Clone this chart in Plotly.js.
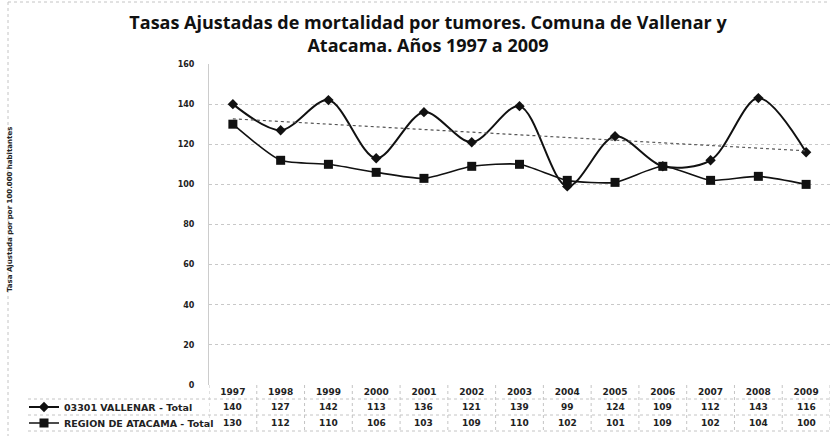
<!DOCTYPE html>
<html>
<head>
<meta charset="utf-8">
<script src="https://cdn.plot.ly/plotly-3.0.1.min.js"></script>
<style>html,body{margin:0;padding:0;background:#fff;}#chart{width:831px;height:439px;}</style>
</head>
<body>
<div id="chart"></div>
<script>
const years = ['1997','1998','1999','2000','2001','2002','2003','2004','2005','2006','2007','2008','2009'];
const vallenar = [140,127,142,113,136,121,139,99,124,109,112,143,116];
const atacama = [130,112,110,106,103,109,110,102,101,109,102,104,100];
const vallenarName = '03301 VALLENAR - Total';
const atacamaName = 'REGION DE ATACAMA - Total';
const yTicks = [0,20,40,60,80,100,120,140,160];

// linear trend of Vallenar (least squares, as the spreadsheet trendline)
const n = vallenar.length;
const idx = vallenar.map((_, i) => i);
const mx = idx.reduce((a, b) => a + b, 0) / n;
const my = vallenar.reduce((a, b) => a + b, 0) / n;
let sxy = 0, sxx = 0;
idx.forEach(i => { sxy += (i - mx) * (vallenar[i] - my); sxx += (i - mx) * (i - mx); });
const slope = sxy / sxx;
const trend = idx.map(i => my + slope * (i - mx));

const plotBottom = 385, plotH = 321, plotL = 209, plotW = 621;
const py = p => (plotBottom - p) / plotH;
const px = p => (p - plotL) / plotW;

const traces = [
  {x: idx, y: vallenar, name: vallenarName, type: 'scatter', mode: 'lines+markers',
   line: {color: '#111', width: 2, shape: 'spline', smoothing: 0.9},
   marker: {symbol: 'diamond', size: 8, color: '#111'}, legend: 'legend'},
  {x: idx, y: atacama, name: atacamaName, type: 'scatter', mode: 'lines+markers',
   line: {color: '#111', width: 1.6, shape: 'spline', smoothing: 0.6},
   marker: {symbol: 'square', size: 9, color: '#111'}, legend: 'legend2'},
  {x: idx, y: trend, name: 'Lineal (03301 VALLENAR - Total)', type: 'scatter', mode: 'lines',
   line: {color: '#555', width: 1.2, dash: 'dot'}, showlegend: false, hoverinfo: 'skip'}
];

const annotations = [];
const cellFont = () => ({family: 'DejaVu Sans', size: 9, color: '#222', weight: 'bold'});
years.forEach((yr, i) => {
  annotations.push({x: i, y: py(407), xref: 'x', yref: 'paper', text: String(vallenar[i]),
    showarrow: false, font: cellFont(), xanchor: 'center', yanchor: 'middle'});
  annotations.push({x: i, y: py(423), xref: 'x', yref: 'paper', text: String(atacama[i]),
    showarrow: false, font: cellFont(), xanchor: 'center', yanchor: 'middle'});
});
annotations.push({x: px(10), y: py(210), xref: 'paper', yref: 'paper', textangle: -90,
  text: 'Tasa Ajustada por por 100.000 habitantes', showarrow: false,
  font: {family: 'DejaVu Sans', size: 7, color: '#222', weight: 'bold'}, xanchor: 'center', yanchor: 'middle'});

const shapes = [];
const gridLine = () => ({color: '#c4c4c4', width: 1, dash: 'dot'});
for (let k = 0; k <= years.length; k++) {
  shapes.push({type: 'line', xref: 'x', yref: 'paper', x0: k - 0.5, x1: k - 0.5,
    y0: py(385), y1: py(431), line: gridLine()});
}
[399, 415, 431].forEach(yy => {
  shapes.push({type: 'line', xref: 'paper', yref: 'paper', x0: px(28), x1: 1,
    y0: py(yy), y1: py(yy), line: gridLine()});
});
shapes.push({type: 'line', xref: 'paper', yref: 'paper', x0: px(8), x1: px(8), y0: py(2), y1: py(436), line: gridLine()});
shapes.push({type: 'line', xref: 'paper', yref: 'paper', x0: px(8), x1: 1, y0: py(2), y1: py(2), line: gridLine()});

const legendCommon = () => ({xanchor: 'left', yanchor: 'middle', bgcolor: 'rgba(0,0,0,0)', borderwidth: 0,
  font: {family: 'DejaVu Sans', size: 9.5, color: '#222', weight: 'bold'}, itemwidth: 30});

const layout = {
  width: 831, height: 439,
  margin: {l: plotL, r: 831 - plotL - plotW, t: 64, b: 439 - plotBottom},
  paper_bgcolor: '#fff', plot_bgcolor: '#fff',
  title: {text: 'Tasas Ajustadas de mortalidad por tumores. Comuna de Vallenar y<br>Atacama. Años 1997 a 2009',
    font: {family: 'Open Sans', size: 18, color: '#111', weight: 'bold'},
    x: 428 / 831, xref: 'container', xanchor: 'center', y: 1 - 29 / 439, yref: 'container', yanchor: 'middle'},
  xaxis: {range: [-0.5, years.length - 0.5], tickvals: idx, ticktext: years,
    showgrid: false, zeroline: false, showline: false, ticks: '', ticklabelstandoff: 0,
    tickfont: {family: 'DejaVu Sans', size: 9, color: '#222', weight: 'bold'}},
  yaxis: {range: [0, 160], tickvals: yTicks, ticktext: yTicks.map(String),
    showgrid: true, gridcolor: '#c8c8c8', griddash: 'dot', gridwidth: 1, zeroline: false,
    showline: true, linecolor: '#cccccc', linewidth: 1, ticks: '', ticklabelstandoff: 12,
    tickfont: {family: 'DejaVu Sans', size: 8, color: '#222', weight: 'bold'}},
  legend: Object.assign({x: px(24), y: py(407)}, legendCommon()),
  legend2: Object.assign({x: px(24), y: py(423)}, legendCommon()),
  annotations: annotations,
  shapes: shapes,
  hovermode: false
};

Plotly.newPlot('chart', traces, layout, {displayModeBar: false, staticPlot: true});
</script>
</body>
</html>
